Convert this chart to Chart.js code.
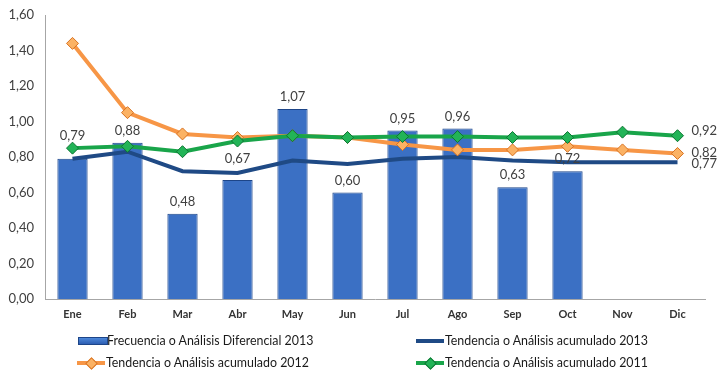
<!DOCTYPE html>
<html>
<head>
<meta charset="utf-8">
<script src="https://cdn.jsdelivr.net/npm/chart.js@4/dist/chart.umd.min.js"></script>
<style>
  html, body { margin: 0; padding: 0; background: #fff; }
  #wrap { position: relative; width: 722px; height: 385px; }
  #c { position: absolute; left: 0; top: 0; }
  .lg { position: absolute; font-family: Lato, "Open Sans", sans-serif; font-size: 12.4px; color: #1a1a1a; white-space: nowrap; line-height: 14px; }
  .ico { position: absolute; }
</style>
</head>
<body>
<div id="wrap">
  <canvas id="c" width="722" height="385"></canvas>
  <div id="legend"></div>
</div>
<script>
const categories = ["Ene","Feb","Mar","Abr","May","Jun","Jul","Ago","Sep","Oct","Nov","Dic"];
const frecuencia2013 = [0.79,0.88,0.48,0.67,1.07,0.60,0.95,0.96,0.63,0.72,null,null];
const tendencia2013 = [0.79,0.83,0.72,0.71,0.78,0.76,0.79,0.80,0.78,0.77,0.77,0.77];
const tendencia2012 = [1.44,1.05,0.93,0.91,0.92,0.91,0.87,0.84,0.84,0.86,0.84,0.82];
const tendencia2011 = [0.85,0.86,0.83,0.89,0.92,0.91,0.915,0.915,0.91,0.91,0.94,0.92];
const endLabels = { 1: "0,77", 2: "0,82", 3: "0,92" };
const yTicks = [0,0.2,0.4,0.6,0.8,1.0,1.2,1.4,1.6];

const fmt = v => v.toFixed(2).replace('.', ',');
const FONT = 'Lato, "Open Sans", sans-serif';

function barGradient(ctx) {
  const chart = ctx.chart;
  const el = ctx.element;
  if (!el || !chart.chartArea || !Number.isFinite(el.x)) return '#3b70c4';
  const w = Number.isFinite(el.width) && el.width > 0 ? el.width : 30;
  const g = chart.ctx.createLinearGradient(el.x - w/2, 0, el.x + w/2, 0);
  g.addColorStop(0, '#2d5eb2');
  g.addColorStop(0.5, '#4d88da');
  g.addColorStop(1, '#2d5eb2');
  return g;
}

const labelPlugin = {
  id: 'labels',
  afterDatasetsDraw(chart, args, opts) {
    const ctx = chart.ctx;
    ctx.save();
    ctx.font = '13px ' + FONT;
    ctx.fillStyle = '#404040';
    ctx.textBaseline = 'middle';
    ctx.textAlign = 'center';
    const meta = chart.getDatasetMeta(0);
    meta.data.forEach((el, i) => {
      const v = chart.data.datasets[0].data[i];
      if (v == null) return;
      const lift = 12 + (opts.extraLift[i] || 0);
      ctx.fillText(fmt(v), el.x, el.y - lift);
    });
    ctx.textAlign = 'left';
    Object.keys(endLabels).forEach(di => {
      const m = chart.getDatasetMeta(+di);
      const el = m.data[m.data.length - 1];
      ctx.fillText(endLabels[di], el.x + 14, el.y + (opts.endDy[di] || 0));
    });
    ctx.restore();
  }
};

new Chart(document.getElementById('c'), {
  data: {
    labels: categories,
    datasets: [
      {
        type: 'bar', label: 'Frecuencia o Análisis Diferencial 2013', data: frecuencia2013,
        backgroundColor: barGradient, borderColor: '#1d4588', borderWidth: 1,
        categoryPercentage: 1.0, barPercentage: 0.55, order: 4
      },
      {
        type: 'line', label: 'Tendencia o Análisis acumulado 2013', data: tendencia2013,
        borderColor: '#1f4a85', borderWidth: 4, pointRadius: 0, tension: 0, order: 3
      },
      {
        type: 'line', label: 'Tendencia o Análisis acumulado 2012', data: tendencia2012,
        borderColor: '#f79646', borderWidth: 4, tension: 0,
        pointStyle: 'rectRot', pointRadius: 6, pointBackgroundColor: '#fbb264',
        pointBorderColor: '#d8711f', pointBorderWidth: 1, order: 2
      },
      {
        type: 'line', label: 'Tendencia o Análisis acumulado 2011', data: tendencia2011,
        borderColor: '#19a54a', borderWidth: 4, tension: 0,
        pointStyle: 'rectRot', pointRadius: 6, pointBackgroundColor: '#22b457',
        pointBorderColor: '#0c7432', pointBorderWidth: 1, order: 1
      }
    ]
  },
  options: {
    responsive: false,
    animation: false,
    layout: { padding: { left: 0, right: 17, top: 15, bottom: 0 } },
    plugins: {
      legend: { display: false },
      tooltip: { enabled: false },
      labels: { extraLift: { 0: 11, 3: 9 }, endDy: { 1: 1, 2: -1, 3: -5 } }
    },
    scales: {
      x: {
        grid: { display: false, drawTicks: false },
        border: { display: true, color: '#a6a6a6', width: 1 },
        ticks: { font: { family: FONT, size: 11, weight: 'bold' }, color: '#333333', padding: 9, maxRotation: 0 },
        afterFit(s) { s.height = 86; s.paddingLeft = 0; s.paddingRight = 0; }
      },
      y: {
        min: 0, max: 1.6,
        afterBuildTicks(s) { s.ticks = yTicks.map(v => ({ value: v })); },
        grid: { display: false, drawTicks: false },
        border: { display: true, color: '#a6a6a6', width: 1 },
        ticks: { font: { family: FONT, size: 13 }, color: '#404040', padding: 11, callback: v => fmt(v) },
        afterFit(s) { s.width = 45; s.paddingTop = 0; s.paddingBottom = 0; }
      }
    }
  },
  plugins: [labelPlugin]
});

// HTML legend
const legend = document.getElementById('legend');
const items = [
  { text: 'Frecuencia o Análisis Diferencial 2013', x: 78, y: 341, kind: 'bar' },
  { text: 'Tendencia o Análisis acumulado 2013', x: 416, y: 341, kind: 'line', color: '#1f4a85' },
  { text: 'Tendencia o Análisis acumulado 2012', x: 77, y: 363, kind: 'mark', color: '#f79646', fill: '#fbb264', bc: '#d8711f' },
  { text: 'Tendencia o Análisis acumulado 2011', x: 416, y: 363, kind: 'mark', color: '#19a54a', fill: '#22b457', bc: '#0c7432' }
];
items.forEach(it => {
  const w = 28;
  if (it.kind === 'bar') {
    const d = document.createElement('div');
    d.className = 'ico';
    Object.assign(d.style, { left: it.x + 'px', top: (it.y - 4) + 'px', width: w + 'px', height: '6px',
      background: 'linear-gradient(#4d88da,#2d5eb2)', border: '1px solid #1d4588' });
    legend.appendChild(d);
  } else {
    const l = document.createElement('div');
    l.className = 'ico';
    Object.assign(l.style, { left: it.x + 'px', top: (it.y - 2) + 'px', width: w + 'px', height: '4px', background: it.color });
    legend.appendChild(l);
    if (it.kind === 'mark') {
      const m = document.createElement('div');
      m.className = 'ico';
      Object.assign(m.style, { left: (it.x + w/2 - 4) + 'px', top: (it.y - 4) + 'px', width: '7px', height: '7px',
        background: it.fill, border: '1px solid ' + it.bc, transform: 'rotate(45deg)' });
      legend.appendChild(m);
    }
  }
  const t = document.createElement('div');
  t.className = 'lg';
  t.textContent = it.text;
  Object.assign(t.style, { left: (it.x + w + 1) + 'px', top: (it.y - 7) + 'px' });
  legend.appendChild(t);
});
</script>
</body>
</html>
